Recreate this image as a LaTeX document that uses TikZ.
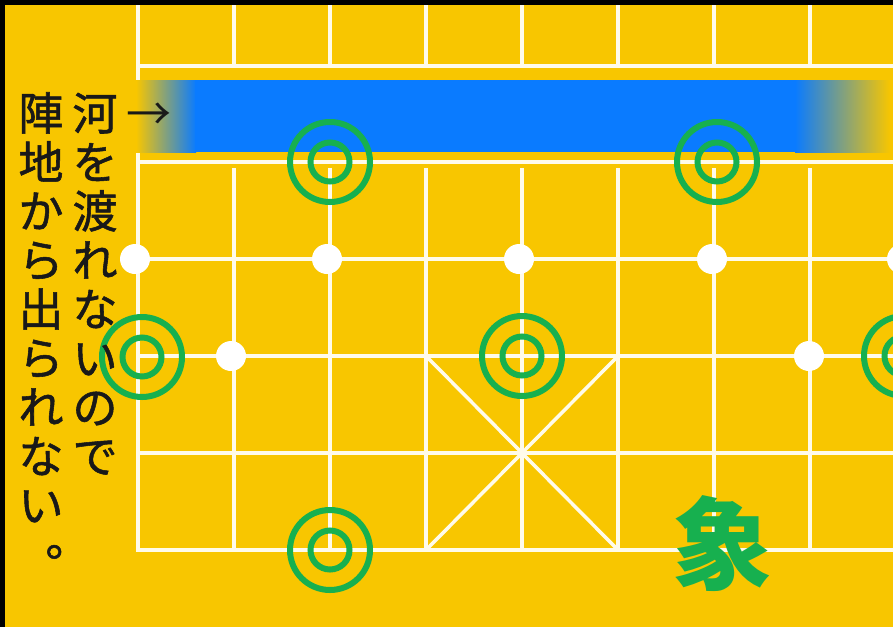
\documentclass[tikz,border=0pt]{standalone}
\usepackage{fontspec}
\newfontfamily\jpfont{Noto Sans CJK JP}
\newfontfamily\jpmedium[FakeBold=1.2]{Noto Sans CJK JP}
\usetikzlibrary{positioning}
\definecolor{boardcolor}{HTML}{F8C600}
\definecolor{rivercolor}{HTML}{0A7BFF}
\definecolor{piececolor}{HTML}{17B04F}
\definecolor{linecolor}{HTML}{FFFBEA}

\begin{document}
\begin{tikzpicture}[
    x=1pt, y=-1pt,
    gridline/.style={draw=linecolor, line width=3.5pt},
    dot/.style={circle, fill=white, minimum size=30pt, inner sep=0pt},
    outer ring/.style={circle, draw=piececolor, line width=6pt,
                       minimum size=80pt, inner sep=0pt},
    inner ring/.style={circle, draw=piececolor, line width=6pt,
                       minimum size=39pt, inner sep=0pt},
    jpchar/.style={font=\jpmedium\fontsize{45}{49}\selectfont, text=black!90,
                   inner sep=0pt, anchor=base}
]
    \useasboundingbox (0,0) rectangle (893,627);
    \clip (0,0) rectangle (893,627);
    \fill[boardcolor] (0,0) rectangle (893,627);

    % board lines
    \foreach \y in {66,162,259,356,453,550}
        \draw[gridline] (136,\y) -- (893,\y);
    \draw[gridline] (138,0) -- (138,550);
    \foreach \i in {1,...,8} {
        \draw[gridline] (138+96*\i,0) -- (138+96*\i,66);
        \draw[gridline] (138+96*\i,168) -- (138+96*\i,550);
    }
    \draw[gridline] (426,356) -- (618,550);
    \draw[gridline] (618,356) -- (426,550);

    % river
    \shade[left color=boardcolor, right color=rivercolor] (136,80) rectangle (196,152);
    \fill[rivercolor] (195,80) rectangle (796,152);
    \shade[left color=rivercolor, right color=boardcolor] (795,80) rectangle (890,152);

    % points
    \node[dot] (p1) at (135,259) {};
    \node[dot] (p2) at (327,259) {};
    \node[dot] (p3) at (519,259) {};
    \node[dot] (p4) at (712,259) {};
    \node[dot] (p5) at (902,259) {};
    \node[dot] (p6) at (231,356) {};
    \node[dot] (p7) at (809,356) {};

    % elephant positions
    \foreach \name/\pos in {e1/{142,357}, e2/{330,162}, e3/{717,162},
                            e4/{522,356}, e5/{330,550}, e6/{904,356}} {
        \node[outer ring] (\name) at (\pos) {};
        \node[inner ring] (\name-in) at (\pos) {};
    }

    % text
    \foreach \ch [count=\i from 0] in {河,を,渡,れ,な,い,の,で}
        \node[jpchar] (r\i) at (95,130+49*\i) {\ch};
    \foreach \ch [count=\i from 0] in {陣,地,か,ら,出,ら,れ,な,い}
        \node[jpchar] (l\i) at (41,130+49*\i) {\ch};
    \node[jpchar] (stop) at (68,556) {。};
    \node[jpchar, font=\jpfont\fontsize{45}{49}\selectfont] (pointer) at (149,130) {→};

    \node[jpchar, font=\jpfont\bfseries\fontsize{100}{100}\selectfont,
          text=piececolor] (piece) at (722,581) {象};

    % frame
    \draw[black, line width=9pt] (0,627) -- (0,0) -- (893,0);
\end{tikzpicture}
\end{document}
